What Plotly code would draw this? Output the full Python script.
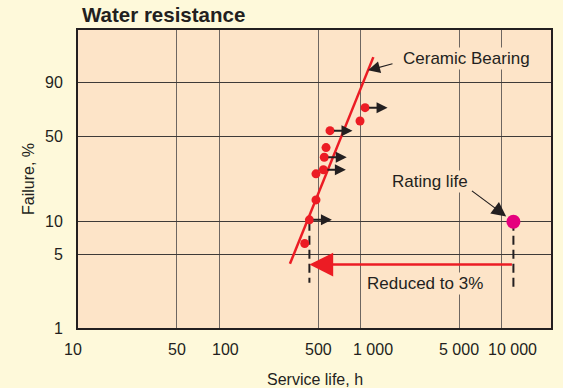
import numpy as np
import plotly.graph_objects as go

# Bearing test results: hours to failure and cumulative failure (%)
failure_hours = [402, 434, 483, 483, 545, 553, 569, 607, 990, 1075]
failure_pct = [6.3, 10.4, 15.7, 26.2, 28.3, 35.5, 41.9, 54.6, 62.4, 73.1]

# Tests stopped without failure (shown with a right-pointing arrow)
suspended_hours = [434, 545, 553, 607, 1075]
suspended_pct = [10.4, 28.3, 35.5, 54.6, 73.1]

# Weibull fit line end points
fit_hours = [316, 1230]
fit_pct = [4.07, 98.2]

# Catalogue rating life (L10)
rating_hours = [12050]
rating_pct = [10]

# L10 of the tested bearings
l10_hours = 434
l10_pct = 10

# Drop lines and "reduced" arrow levels (%)
l10_drop_pct = [10, 2.7]
rating_drop_pct = [10, 2.45]
reduced_arrow_pct = 4.0

x_tick_vals = [10, 50, 100, 500, 1000, 5000, 10000]
x_tick_text = ["10", "50", "100", "500", "1 000", "5 000", "10 000"]
y_tick_vals = [1, 5, 10, 50, 90]
y_tick_text = ["1", "5", "10", "50", "90"]

# Horizontal nudges (px) for the hour labels so the wide ones don't collide
x_label_nudge = [-5, 0, 6, 0, 12, 0, 11]

PAPER = "#FEF9DA"
PLOT = "#FDE4C8"
RED = "#EC1C24"
MAGENTA = "#E5007E"
INK = "#231F20"
FONT = "Liberation Sans, Arial, sans-serif"


def weib(p):
    """Weibull probability scale: ln(-ln(1 - F))."""
    p = np.asarray(p, dtype=float) / 100.0
    return np.log(-np.log(1.0 - p))


fig = go.Figure()

# Weibull fit line
fig.add_trace(go.Scatter(
    x=fit_hours, y=weib(fit_pct), mode="lines",
    line=dict(color=RED, width=2.5), hoverinfo="skip", showlegend=False))

# Dashed drop lines from the L10 points
fig.add_trace(go.Scatter(
    x=[l10_hours, l10_hours], y=weib(l10_drop_pct), mode="lines",
    line=dict(color=INK, width=2, dash="9px,5px"), showlegend=False))
fig.add_trace(go.Scatter(
    x=rating_hours * 2, y=weib(rating_drop_pct), mode="lines",
    line=dict(color=INK, width=2, dash="9px,5px"), showlegend=False))

# Test points
fig.add_trace(go.Scatter(
    x=failure_hours, y=weib(failure_pct), mode="markers",
    marker=dict(color=RED, size=9, line=dict(width=0)), showlegend=False))

# Rating life point
fig.add_trace(go.Scatter(
    x=rating_hours, y=weib(rating_pct), mode="markers",
    marker=dict(color=MAGENTA, size=14, line=dict(width=0)), showlegend=False))

annotations = []

# Suspension arrows
for h, p in zip(suspended_hours, suspended_pct):
    annotations.append(dict(
        x=np.log10(h), y=float(weib(p)), xref="x", yref="y",
        ax=24, ay=0, text="", showarrow=True, arrowside="start",
        startarrowhead=2, startarrowsize=1.1, arrowwidth=2,
        arrowcolor=INK, standoff=4))

# Red "reduced" arrow from rating life back to tested L10
annotations.append(dict(
    x=np.log10(l10_hours), y=float(weib(reduced_arrow_pct)),
    ax=np.log10(rating_hours[0]), ay=float(weib(reduced_arrow_pct)),
    xref="x", yref="y", axref="x", ayref="y", text="", showarrow=True,
    arrowhead=2, arrowsize=1.9, arrowwidth=2.5, arrowcolor=RED))

# Pointer to the fit line
w_tip = float(weib(95))
wf = weib(fit_pct)
lx_tip = float(np.interp(w_tip, wf, np.log10(fit_hours)))
annotations.append(dict(
    x=lx_tip, y=w_tip, xref="x", yref="y", ax=26, ay=-7, text="",
    showarrow=True, arrowhead=2, arrowsize=2, arrowwidth=1.2,
    arrowcolor=INK))

# Pointer to rating life
annotations.append(dict(
    x=np.log10(rating_hours[0]), y=float(weib(rating_pct[0])),
    xref="x", yref="y", ax=-43, ay=-32, text="", showarrow=True,
    arrowhead=2, arrowsize=2.4, arrowwidth=1.2, arrowcolor=INK, standoff=9))

label_font = dict(family=FONT, size=17, color=INK)
for txt, xp, yp in [("Ceramic Bearing", 0.822, 0.903),
                    ("Rating life", 0.744, 0.490),
                    ("Reduced to 3%", 0.7336, 0.151)]:
    annotations.append(dict(
        x=xp, y=yp, xref="paper", yref="paper", text=txt, showarrow=False,
        font=label_font, bgcolor=PLOT, borderpad=1,
        xanchor="center", yanchor="middle"))

# Hour labels under the axis
tick_font = dict(family=FONT, size=16, color=INK)
for v, t, dx in zip(x_tick_vals, x_tick_text, x_label_nudge):
    annotations.append(dict(
        x=np.log10(v), y=0, xref="x", yref="paper", text=t, showarrow=False,
        font=tick_font, xanchor="center", yanchor="top", xshift=dx,
        yshift=-11))

y_bottom = float(weib(1))
y_top = 1.99

fig.update_layout(
    width=563, height=388,
    margin=dict(l=78, r=12, t=30, b=60, autoexpand=False),
    paper_bgcolor=PAPER, plot_bgcolor=PLOT,
    font=dict(family=FONT, size=16, color=INK),
    title=dict(text="<b>Water resistance</b>", x=82 / 563, xref="container",
               xanchor="left", y=1 - 15 / 388, yanchor="middle",
               font=dict(family=FONT, size=20.5, color=INK)),
    annotations=annotations,
    showlegend=False,
)

fig.update_xaxes(
    type="log", range=[1, 4.347], automargin=False,
    tickvals=x_tick_vals, showticklabels=False,
    showgrid=True, gridcolor="#6E6661", gridwidth=1,
    showline=True, linecolor=INK, linewidth=2, mirror=True,
    ticks="", zeroline=False)

fig.add_annotation(
    x=0.5, y=0, xref="paper", yref="paper", text="Service life, h",
    showarrow=False, font=dict(family=FONT, size=16, color=INK),
    xanchor="center", yanchor="middle", yshift=-51)

fig.update_yaxes(
    range=[y_bottom, y_top], automargin=False,
    tickvals=list(weib(y_tick_vals)), ticktext=y_tick_text,
    showgrid=True, gridcolor="#3E3A38", gridwidth=1,
    showline=True, linecolor=INK, linewidth=2, mirror=True,
    ticks="", ticklabelstandoff=10, zeroline=False,
    tickfont=dict(family=FONT, size=16, color=INK),
    title=dict(text="Failure, %", standoff=6,
               font=dict(family=FONT, size=16, color=INK)))

fig.write_html("out.html")
